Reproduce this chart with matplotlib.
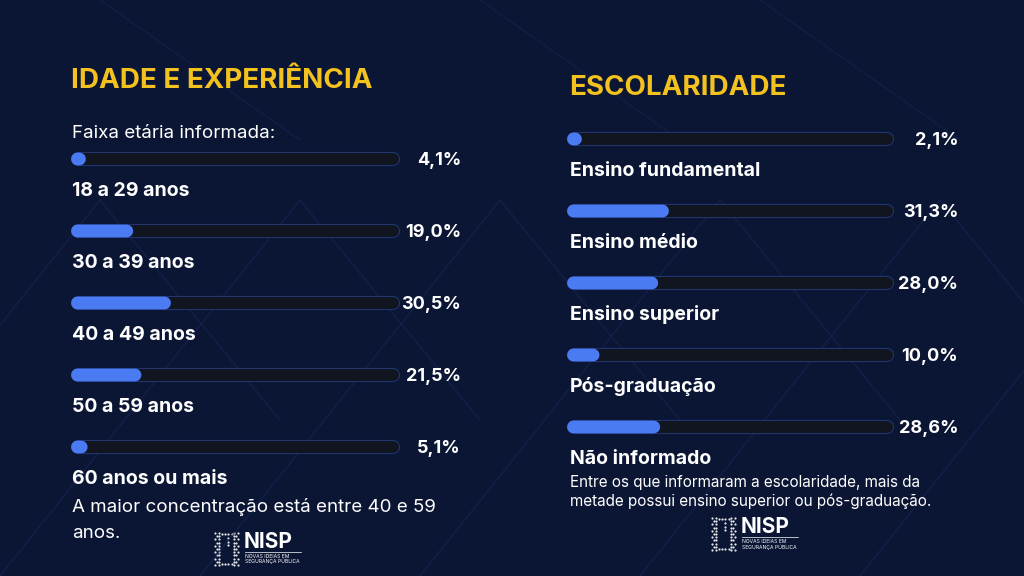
import numpy as np
import matplotlib
matplotlib.use("Agg")
import matplotlib.pyplot as plt

plt.rcParams['font.family'] = ['Inter', 'DejaVu Sans']

# dados
faixas = ["18 a 29 anos", "30 a 39 anos", "40 a 49 anos", "50 a 59 anos", "60 anos ou mais"]
faixas_pct = [4.1, 19.0, 30.5, 21.5, 5.1]

escolaridade = ["Ensino fundamental", "Ensino médio", "Ensino superior",
                "Pós-graduação", "Não informado"]
escolaridade_pct = [2.1, 31.3, 28.0, 10.0, 28.6]

BG = "#0b1634"
TRACK = "#11151f"
EDGE = "#22387a"
FILL = "#4b7bf2"
YELLOW = "#f4c21f"
W, H = 1024, 576

fig = plt.figure(figsize=(W / 100, H / 100), dpi=100, facecolor=BG)


def px(x, y):
    return x / W, 1 - y / H


# fundo com linhas diagonais discretas
bg = fig.add_axes([0, 0, 1, 1])
bg.set_xlim(0, W)
bg.set_ylim(H, 0)
bg.axis("off")
for x0 in [-200, 0, 200, 420, 640, 860]:
    bg.plot([x0, x0 + 300], [576, 200], color="#17275e", lw=0.9, alpha=0.6)
    bg.plot([x0 + 300, x0 + 480], [200, 420], color="#17275e", lw=0.9, alpha=0.6)
for x0 in [100, 480, 760]:
    bg.plot([x0, x0 + 200], [0, 140], color="#17275e", lw=0.9, alpha=0.5)


def painel(x0, x1, y_first, labels, vals, val_right, lab_dx):
    step = 72
    top = y_first - step / 2
    bottom = y_first + step * (len(vals) - 0.5)
    wpx = x1 - x0
    l, b = px(x0, bottom)
    ax = fig.add_axes([l, b, wpx / W, (bottom - top) / H])
    ax.set_xlim(0, 100)
    ax.set_ylim(len(vals) - 0.5, -0.5)
    ax.axis("off")
    r = 6.5 / wpx * 100      # raio do arredondamento em unidades de dados
    xr = (val_right - x0) / wpx
    for i, (lab, v) in enumerate(zip(labels, vals)):
        ax.plot([r, 100 - r], [i, i], color=EDGE, lw=10.2, solid_capstyle="round", clip_on=False)
        ax.plot([r, 100 - r], [i, i], color=TRACK, lw=8.8, solid_capstyle="round", clip_on=False)
        ax.plot([r, max(v - r, r + 0.6)], [i, i], color=FILL, lw=9.2, solid_capstyle="round",
                clip_on=False, snap=False)
        ax.text(xr, i + 0.02, f"{v:.1f}%".replace(".", ","), transform=ax.get_yaxis_transform(),
                ha="right", va="center", color="white", fontsize=13, fontweight="bold")
        ax.text(lab_dx / wpx * 100, i + 0.44, lab, ha="left", va="center",
                color="white", fontsize=14, fontweight="bold", clip_on=False)
    return ax


# painel esquerdo
fig.text(*px(71, 81), "IDADE E EXPERIÊNCIA", color=YELLOW, fontsize=20,
         fontweight="bold", va="center", ha="left")
fig.text(*px(72, 133), "Faixa etária informada:", color="white", fontsize=13.5,
         va="center", ha="left")
painel(71, 399, 159, faixas, faixas_pct, 461, 1)
fig.text(*px(72, 507), "A maior concentração está entre 40 e 59", color="white",
         fontsize=13.5, va="center", ha="left")
fig.text(*px(72, 533), "anos.", color="white", fontsize=13.5, va="center", ha="left")

# painel direito
fig.text(*px(569, 88), "ESCOLARIDADE", color=YELLOW, fontsize=20,
         fontweight="bold", va="center", ha="left")
painel(567, 893, 139, escolaridade, escolaridade_pct, 958, 3)
fig.text(*px(570, 482), "Entre os que informaram a escolaridade, mais da", color="white",
         fontsize=11, va="center", ha="left")
fig.text(*px(570, 501), "metade possui ensino superior ou pós-graduação.", color="white",
         fontsize=11, va="center", ha="left")


def logo(x, y):
    # marca pontilhada "CJ"
    dots = []
    for k, yy in enumerate(np.arange(0, 33, 3.2)):
        dots.append((x + 2 + (k % 2) * 1.5, y + yy))
        dots.append((x + 5.5, y + yy))
        dots.append((x + 21, y + yy))
        dots.append((x + 24.5 - (k % 2) * 1.5, y + yy))
    for xx in np.arange(9, 19, 3.2):
        dots.append((x + xx, y + 1))
        dots.append((x + xx, y + 31))
    for yy in [5, 8.5, 12]:
        dots.append((x + 15, y + yy))
    d = np.array(dots)
    bg.scatter(d[:, 0], d[:, 1], s=2.5, color="white", lw=0, alpha=0.9)
    fig.text(*px(x + 31, y + 9), "NISP", color="white", fontsize=15, fontweight="bold",
             va="center", ha="left")
    bg.plot([x + 32, x + 88], [y + 19, y + 19], color="white", lw=0.5)
    fig.text(*px(x + 32, y + 23.5), "NOVAS IDEIAS EM", color="white", fontsize=3.6,
             va="center", ha="left")
    fig.text(*px(x + 32, y + 28.5), "SEGURANÇA PÚBLICA", color="white", fontsize=3.6,
             va="center", ha="left")


logo(213, 533)
logo(710, 518)

fig.savefig("out.png", dpi=100, facecolor=BG)
